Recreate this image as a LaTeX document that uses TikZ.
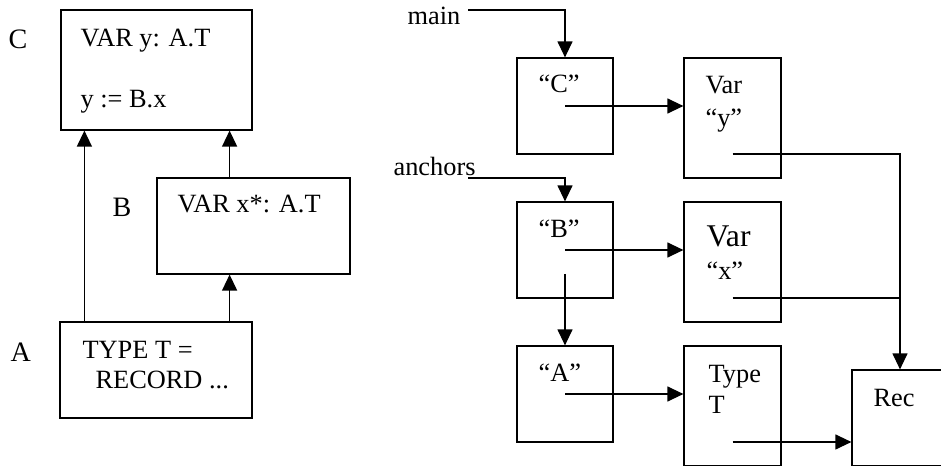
\documentclass[tikz,border=0pt]{standalone}
\usepackage{fontspec}
\setmainfont{Liberation Serif}
\usetikzlibrary{arrows.meta,positioning}

\begin{document}
\begin{tikzpicture}[x=0.02cm,y=-0.02cm,>={Triangle[length=3.2mm,width=3mm]},line width=0.7pt]
\tikzset{
  box/.style ={draw,inner sep=0pt,minimum width=3.84cm,minimum height=1.92cm},
  cell/.style={draw,inner sep=0pt,minimum width=1.92cm,minimum height=1.92cm},
  obj/.style ={draw,inner sep=0pt,minimum width=1.94cm,minimum height=2.4cm},
  txt/.style ={anchor=base west,inner sep=0pt,font=\fontsize{15}{18}\selectfont},
  arr/.style ={->}
}
\useasboundingbox (0,0) rectangle (941,466);
\clip (0,0) rectangle (941,466);

% modules
\node[box,minimum width=3.82cm,minimum height=2.4cm] (modC) at (156.5,70) {};
\node[box,minimum width=3.86cm] (modB) at (253.5,226) {};
\node[box] (modA) at (156,370) {};
\node[txt,font=\fontsize{16}{18}\selectfont] (nameC) at (8,49) {C};
\node[txt,font=\fontsize{16}{18}\selectfont] (nameB) at (112,216) {B};
\node[txt,font=\fontsize{16}{18}\selectfont] (nameA) at (10,361) {A};
\node[txt] (declY) at (80,47) {VAR y: A.T};
\node[txt] (assY) at (80,108) {y := B.x};
\node[txt] (declX) at (177,213) {VAR x*: A.T};
\node[txt] (declT) at (82,358) {TYPE T =};
\node[txt] (declR) at (95,388) {RECORD ...};
\draw[arr] ([xshift=5mm]modA.north west) -- ([xshift=5mm]modA.north west |- modC.south);
\draw[arr] ([xshift=-4.6mm]modA.north east) -- ([xshift=-4.6mm]modA.north east |- modB.south);
\draw[arr] ([xshift=-4.6mm]modC.south east |- modB.north) -- ([xshift=-4.6mm]modC.south east);

% symbol table
\node[txt] (lblMain) at (407,25) {main};
\node[txt] (lblAnc) at (393,175) {anchors};
\coordinate (mainEnd) at (468,10);
\coordinate (ancEnd) at (468,178);
\node[cell] (tabC) at (565,106) {};
\node[cell] (tabB) at (565,250) {};
\node[cell] (tabA) at (565,394) {};
\node[txt] (keyC) at (538,93) {“C”};
\node[txt] (keyB) at (538,237) {“B”};
\node[txt] (keyA) at (538,381) {“A”};
\node[obj] (objY) at (732.5,118) {};
\node[obj] (objX) at (732.5,262) {};
\node[obj] (objT) at (732.5,406) {};
\node[cell] (objRec) at (900,418) {};
\node[txt] (kindY) at (705,94) {Var};
\node[txt] (nmY) at (705,127) {“y”};
\node[txt,font=\fontsize{18}{20}\selectfont] (kindX) at (706,247) {Var};
\node[txt] (nmX) at (706,279) {“x”};
\node[txt] (kindT) at (708,382) {Type};
\node[txt] (nmT) at (708,413) {T};
\node[txt] (kindRec) at (873,406) {Rec};

\draw[arr] (mainEnd) -| (tabC.north);
\draw[arr] (ancEnd) -| (tabB.north);
\draw[arr] (tabC.center) -- (tabC.center -| objY.west);
\draw[arr] (tabB.center) -- (tabB.center -| objX.west);
\draw[arr] ([yshift=-4.8mm]tabB.center) -- (tabA.north);
\draw[arr] (tabA.center) -- (tabA.center -| objT.west);
\draw[arr] ([yshift=-7.2mm]objY.center) -| (objRec.north);
\draw ([yshift=-7.2mm]objX.center) -- ([yshift=-7.2mm]objX.center -| objRec.north);
\draw[arr] ([yshift=-7.2mm]objT.center) -- ([yshift=-7.2mm]objT.center -| objRec.west);
\end{tikzpicture}
\end{document}
